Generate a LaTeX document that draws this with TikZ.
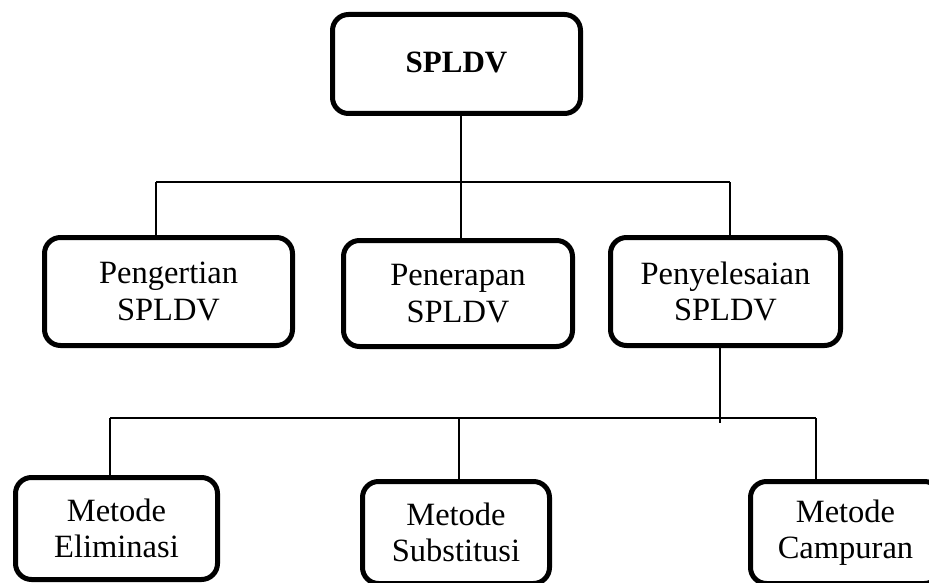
\documentclass[tikz,border=0pt]{standalone}
\usepackage{fontspec}
\setmainfont{Liberation Serif}
\begin{document}
\begin{tikzpicture}[x=1pt,y=-1pt,
  box/.style={draw=black, line width=5pt, rounded corners=16pt, fill=white,
    align=center, inner sep=0pt, font=\fontsize{32.5}{36.5}\selectfont},
  conn/.style={draw=black, line width=1.6pt}]
\useasboundingbox (0,0) rectangle (929,583);
\fill[white] (0,0) rectangle (929,583);
% top
\node[box, minimum width=248pt, minimum height=99pt, font=\fontsize{31}{36}\selectfont\bfseries] (top) at (456.5,64) {\raisebox{4pt}{SPLDV}};
% second row
\node[box, minimum width=248pt, minimum height=108pt] (peng) at (168.5,291.5) {Pengertian\\SPLDV};
\node[box, minimum width=229pt, minimum height=106pt] (pener) at (458,293.5) {Penerapan\\SPLDV};
\node[box, minimum width=230pt, minimum height=108pt] (peny) at (725.5,291.5) {Penyelesaian\\SPLDV};
% third row
\node[box, minimum width=202pt, minimum height=102pt] (elim) at (116.5,528.5) {Metode\\Eliminasi};
\node[box, minimum width=187pt, minimum height=102pt] (subs) at (456,532.5) {Metode\\Substitusi};
\node[box, minimum width=190pt, minimum height=102pt] (camp) at (845.5,532.5) {Metode\\Campuran};
% junctions
\coordinate (ja) at (461,182);
\coordinate (jl) at (156,182);
\coordinate (jr) at (730,182);
\coordinate (jb) at (720,418);
\coordinate (jbl) at (110,418);
\coordinate (jbm) at (459,418);
\coordinate (jbr) at (816,418);
\coordinate (jbend) at (720,423);
% connectors upper
\draw[conn] (top.south -| ja) -- (pener.north -| ja);
\draw[conn] (jl) -- (jr);
\draw[conn] (jl) -- (peng.north -| jl);
\draw[conn] (jr) -- (peny.north -| jr);
% connectors lower
\draw[conn] (peny.south -| jb) -- (jbend);
\draw[conn] (jbl) -- (jbr);
\draw[conn] (jbl) -- (elim.north -| jbl);
\draw[conn] (jbm) -- (subs.north -| jbm);
\draw[conn] (jbr) -- (camp.north -| jbr);
\end{tikzpicture}
\end{document}
